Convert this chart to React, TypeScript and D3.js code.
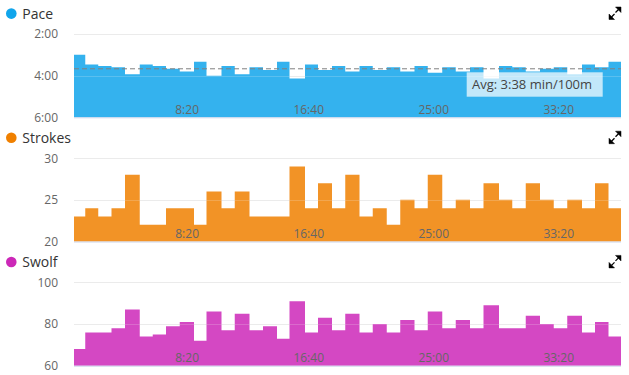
import React from "react";
import * as d3 from "d3";

// ---- data ----
const durations = [45, 52, 53, 54, 59, 52, 53, 55, 57, 50, 60, 53, 59, 54, 56, 50, 62, 52, 56, 53, 57, 53, 56, 54, 57, 53, 58, 54, 57, 54, 62, 53, 54, 57, 55, 54, 59, 52, 54, 50];
const paceSec = [180, 208, 212, 216, 236, 208, 212, 220, 228, 200, 240, 212, 236, 216, 224, 200, 248, 208, 224, 212, 228, 212, 224, 216, 228, 212, 232, 216, 228, 216, 248, 212, 216, 228, 220, 216, 236, 208, 216, 200];
const strokes = [23, 24, 23, 24, 28, 22, 22, 24, 24, 22, 26, 24, 26, 23, 23, 23, 29, 24, 27, 24, 28, 23, 24, 22, 25, 24, 28, 24, 25, 24, 27, 25, 24, 27, 25, 24, 25, 24, 27, 24];
const swolf = [68, 76, 76, 78, 87, 74, 75, 79, 81, 72, 86, 77, 85, 77, 79, 73, 91, 76, 83, 77, 85, 76, 80, 76, 82, 77, 86, 78, 82, 78, 89, 78, 78, 84, 80, 78, 84, 76, 81, 74];

const xTicks = [500, 1000, 1500, 2000];
const xTickLabels = ["8:20", "16:40", "25:00", "33:20"];

const paceTicks = [120, 240, 360];
const paceTickLabels = ["2:00", "4:00", "6:00"];
const strokeTicks = [30, 25, 20];
const strokeTickLabels = ["30", "25", "20"];
const swolfTicks = [100, 80, 60];
const swolfTickLabels = ["100", "80", "60"];

const avgPace = 218.8;
const avgLabel = "Avg: 3:38 min/100m";

// ---- layout ----
const W = 629;
const H = 375;
const plotLeft = 74;
const plotRight = 621;
const plotTopRel = 34;
const plotBottomRel = 117.3;
const FONT = "'Open Sans', sans-serif";

const starts = [0, ...Array.from(d3.cumsum(durations))];
const x = d3.scaleLinear().domain([0, d3.sum(durations)]).range([plotLeft, plotRight]);

type PanelProps = {
  off: number;
  title: string;
  color: string;
  values: number[];
  domain: [number, number]; // value at bottom, value at top
  ticks: number[];
  tickLabels: string[];
  avg?: number;
  avgText?: string;
};

function Panel({ off, title, color, values, domain, ticks, tickLabels, avg, avgText }: PanelProps) {
  const top = plotTopRel + off;
  const bottom = plotBottomRel + off;
  const y = d3.scaleLinear().domain(domain).range([bottom, top]);
  const pts: [number, number][] = values.map((v, i) => [starts[i], v] as [number, number]);
  pts.push([starts[values.length], values[values.length - 1]]);
  const area = d3
    .area<[number, number]>()
    .x((d) => x(d[0]))
    .y0(bottom)
    .y1((d) => y(d[1]))
    .curve(d3.curveStepAfter);
  const gridTicks = ticks.filter((t) => t !== domain[0]);
  const iy = 7 + off;
  return (
    <g>
      {gridTicks.map((t, i) => (
        <line key={"g" + i} x1={plotLeft} x2={plotRight} y1={Math.round(y(t)) + 0.5} y2={Math.round(y(t)) + 0.5} stroke="#e6e6e6" strokeWidth={1} />
      ))}
      <path d={area(pts) || ""} fill={color} fillOpacity={0.85} />
      {gridTicks.map((t, i) => (
        <line key={"w" + i} x1={plotLeft} x2={plotRight} y1={Math.round(y(t)) + 0.5} y2={Math.round(y(t)) + 0.5} stroke="#ffffff" strokeOpacity={0.2} strokeWidth={1} />
      ))}
      <line x1={plotLeft} x2={plotRight} y1={bottom + 0.5} y2={bottom + 0.5} stroke="#ccd6eb" strokeWidth={1} />
      {xTicks.map((t, i) => (
        <text key={"x" + i} x={x(t)} y={bottom - 3.3} textAnchor="end" fontFamily={FONT} fontSize={12} fill="#666666">
          {xTickLabels[i]}
        </text>
      ))}
      {avg !== undefined && (
        <g>
          <line x1={plotLeft} x2={plotRight} y1={y(avg) + 0.5} y2={y(avg) + 0.5} stroke="#808080" strokeWidth={1} strokeDasharray="5,3" />
          <rect x={466.7} y={72.3 + off} width={136} height={24.4} fill="#ffffff" fillOpacity={0.7} />
          <text x={472} y={88.6 + off} fontFamily={FONT} fontSize={13} fill="#444444">
            {avgText}
          </text>
        </g>
      )}
      {ticks.map((t, i) => (
        <text key={"y" + i} x={58} y={y(t) + 4.3} textAnchor="end" fontFamily={FONT} fontSize={12} fill="#666666">
          {tickLabels[i]}
        </text>
      ))}
      <circle cx={11.3} cy={13.6 + off} r={5.3} fill={color} />
      <text x={22.3} y={18.6 + off} fontFamily={FONT} fontSize={14} fill="#333333">
        {title}
      </text>
      <g fill="#000000" stroke="#000000">
        <path d={`M615.5,${iy} L621,${iy} L621,${iy + 5.5} Z`} strokeWidth={0.5} />
        <line x1={618.5} y1={iy + 2.5} x2={615.5} y2={iy + 5.5} strokeWidth={1.3} />
        <path d={`M609,${iy + 7} L609,${iy + 12.5} L614.5,${iy + 12.5} Z`} strokeWidth={0.5} />
        <line x1={611.5} y1={iy + 10} x2={614.5} y2={iy + 7} strokeWidth={1.3} />
      </g>
    </g>
  );
}

export default function App() {
  return (
    <svg width={W} height={H} style={{ position: "absolute", left: 0, top: 0, background: "#ffffff" }}>
      <rect x={0} y={0} width={W} height={H} fill="#ffffff" />
      <Panel off={0} title="Pace" color="#11a5eb" values={paceSec} domain={[360, 120]} ticks={paceTicks} tickLabels={paceTickLabels} avg={avgPace} avgText={avgLabel} />
      <Panel off={124.2} title="Strokes" color="#f08000" values={strokes} domain={[20, 30]} ticks={strokeTicks} tickLabels={strokeTickLabels} />
      <Panel off={248.4} title="Swolf" color="#cc28b8" values={swolf} domain={[60, 100]} ticks={swolfTicks} tickLabels={swolfTickLabels} />
    </svg>
  );
}
